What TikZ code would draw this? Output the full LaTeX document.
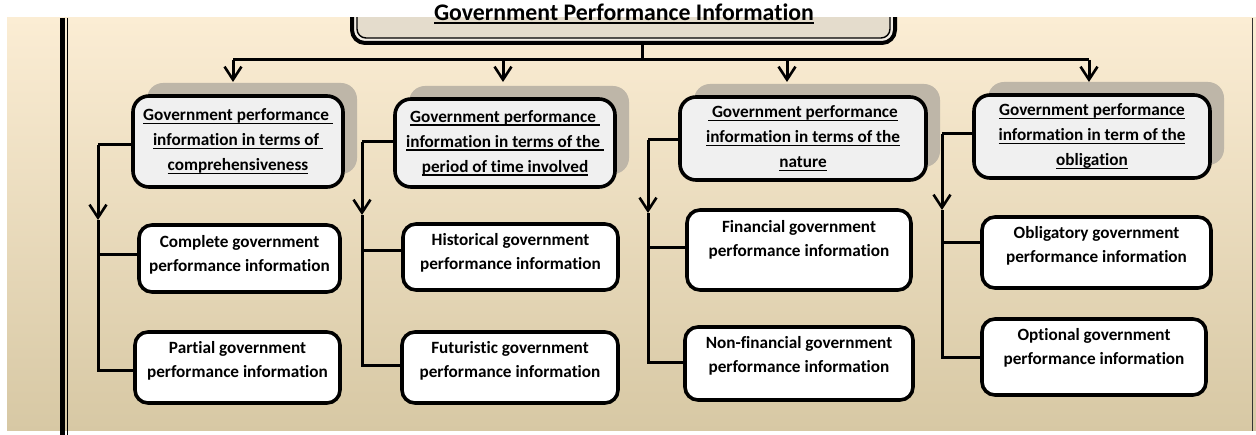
\documentclass[tikz,border=0pt]{standalone}
\usepackage{fontspec}
\setmainfont{Carlito}[Ligatures=NoCommon]
\usetikzlibrary{arrows.meta,calc,shadows}

\definecolor{panelTop}{HTML}{FBEDD4}
\definecolor{panelMid}{HTML}{F1E7D0}
\definecolor{panelBot}{HTML}{D7C8A4}
\definecolor{shadowC}{HTML}{BEB6A8}
\definecolor{headFill}{HTML}{F0F0F0}
\definecolor{titleFill}{HTML}{E4DCCC}
\definecolor{titleGap}{HTML}{F2EDE4}

% underline at a fixed depth below the baseline
\newsavebox{\undlbox}
\newcommand{\undl}[1]{\sbox{\undlbox}{#1}\rlap{\rule[-3.5pt]{\wd\undlbox}{1.6pt}}\usebox{\undlbox}}

\tikzset{
  conn/.style={line width=3pt, draw=black},
  arr/.style={-{Straight Barb[length=13pt,width=17pt,line width=2.6pt]}},
  headbox/.style={draw, line width=3.6pt, rounded corners=16pt, fill=headFill,
    general shadow={fill=shadowC, shadow xshift=14pt, shadow yshift=13pt},
    align=center, inner sep=0pt,
    font=\bfseries\fontsize{17.2}{25}\selectfont},
  childbox/.style={draw, line width=3.6pt, rounded corners=13pt, fill=white, inner sep=0pt},
  childtext/.style={align=center, inner sep=0pt,
    font=\bfseries\fontsize{17.2}{24}\selectfont},
  titlebox/.style={draw, line width=4pt, rounded corners=13pt, fill=titleGap, inner sep=0pt},
}

\begin{document}
\begin{tikzpicture}[x=1pt,y=-1pt]
\useasboundingbox (0,0) rectangle (1256,435);

% background panel
\shade[top color=panelTop, middle color=panelMid, bottom color=panelBot]
  (7,18) rectangle (1256,431);

% frame lines
\draw[line width=5pt] (62.5,18) -- (62.5,435);
\draw[line width=1.5pt] (67.5,18) -- (67.5,435);
\draw[line width=1.5pt, draw=black!80] (1252.5,18) -- (1252.5,431);

% title box, cut off by the top of the panel
\begin{scope}
  \clip (7,18) rectangle (1256,431);
  \node[titlebox, minimum width=543pt, minimum height=76pt] (tbox) at (623.5,5) {};
  \draw[line width=1.4pt, fill=titleFill, rounded corners=9pt]
    ($(tbox.south west)+(7,-7)$) rectangle ($(tbox.north east)+(-7,7)$);
\end{scope}
\node[font=\bfseries\fontsize{23.8}{28}\selectfont, inner sep=0pt] (title) at (624,14)
  {\undl{Government Performance Information}};

% category boxes
\node[headbox, minimum width=210pt, minimum height=91pt] (h1) at (238,141.5)
  {\undl{Government performance\ }\\\undl{information in terms of\ }\\\undl{comprehensiveness}};
\node[headbox, minimum width=220pt, minimum height=88pt] (h2) at (505,143)
  {\undl{Government performance\ }\\\undl{information in terms of the\ }\\\undl{period of time involved}};
\node[headbox, minimum width=246pt, minimum height=83pt] (h3) at (803,138.5)
  {\undl{\ Government performance}\\\undl{information in terms of the}\\\undl{nature}};
\node[headbox, minimum width=236pt, minimum height=83pt] (h4) at (1092,136.5)
  {\undl{Government performance}\\\undl{information in term of the}\\\undl{obligation}};

% sub-category boxes
\node[childbox, minimum width=201pt, minimum height=67pt] (c11) at (239.5,258.5) {};
\node[childbox, minimum width=205pt, minimum height=71pt] (c12) at (237.5,367.5) {};
\node[childbox, minimum width=215pt, minimum height=66pt] (c21) at (510.5,257) {};
\node[childbox, minimum width=216pt, minimum height=71pt] (c22) at (510,367.5) {};
\node[childbox, minimum width=224pt, minimum height=80pt] (c31) at (799,250) {};
\node[childbox, minimum width=228pt, minimum height=73pt] (c32) at (799,363.5) {};
\node[childbox, minimum width=229pt, minimum height=71pt] (c41) at (1096.5,252.5) {};
\node[childbox, minimum width=224pt, minimum height=76pt] (c42) at (1094,357) {};

\node[childtext] (t11) at ($(c11)+(0,-4)$) {Complete government\\performance information};
\node[childtext] (t12) at ($(c12)+(0,-7)$) {Partial government\\performance information};
\node[childtext] (t21) at ($(c21)+(0,-4.5)$) {Historical government\\performance information};
\node[childtext] (t22) at ($(c22)+(0,-6.5)$) {Futuristic government\\performance information};
\node[childtext] (t31) at ($(c31)+(0,-10)$) {Financial government\\performance information};
\node[childtext] (t32) at ($(c32)+(0,-8)$) {Non-financial government\\performance information};
\node[childtext] (t41) at ($(c41)+(0,-7)$) {Obligatory government\\performance information};
\node[childtext] (t42) at ($(c42)+(0,-9.5)$) {Optional government\\performance information};

% top distribution bus
\coordinate (hub) at (642,60);
\coordinate (d1) at (233,82);
\coordinate (d2) at (503,82);
\coordinate (d3) at (787,82);
\coordinate (d4) at (1089,82);
\draw[conn] (hub|-tbox.south) -- (hub);
\draw[conn] (d1|-hub) -- (d4|-hub);
\foreach \i in {1,...,4} \draw[conn,arr] (d\i|-hub) -- (d\i);

% side connectors to the sub-categories
\coordinate (v1) at (98,145);  \coordinate (a1) at (98,220);
\coordinate (v2) at (362,142); \coordinate (a2) at (362,215);
\coordinate (v3) at (648,140); \coordinate (a3) at (648,213);
\coordinate (v4) at (942,134); \coordinate (a4) at (942,210);

\draw[conn] (h1.west|-v1) -- (v1);
\draw[conn,arr] (v1) -- (a1);
\draw[conn] (a1) |- ($(c12.west)+(0,3.5)$);
\draw[conn] ($(v1|-c11.west)+(0,-3.5)$) -- ($(c11.west)+(0,-3.5)$);

\draw[conn] (h2.west|-v2) -- (v2);
\draw[conn,arr] (v2) -- (a2);
\draw[conn] (a2) |- ($(c22.west)+(0,-1.5)$);
\draw[conn] ($(v2|-c21.west)+(0,-6)$) -- ($(c21.west)+(0,-6)$);

\draw[conn] (h3.west|-v3) -- (v3);
\draw[conn,arr] (v3) -- (a3);
\draw[conn] (a3) |- ($(c32.west)+(0,-0.5)$);
\draw[conn] ($(v3|-c31.west)+(0,-2)$) -- ($(c31.west)+(0,-2)$);

\draw[conn] (h4.west|-v4) -- (v4);
\draw[conn,arr] (v4) -- (a4);
\draw[conn] (a4) |- ($(c42.west)+(0,1)$);
\draw[conn] ($(v4|-c41.west)+(0,-9.5)$) -- ($(c41.west)+(0,-9.5)$);
\end{tikzpicture}
\end{document}
